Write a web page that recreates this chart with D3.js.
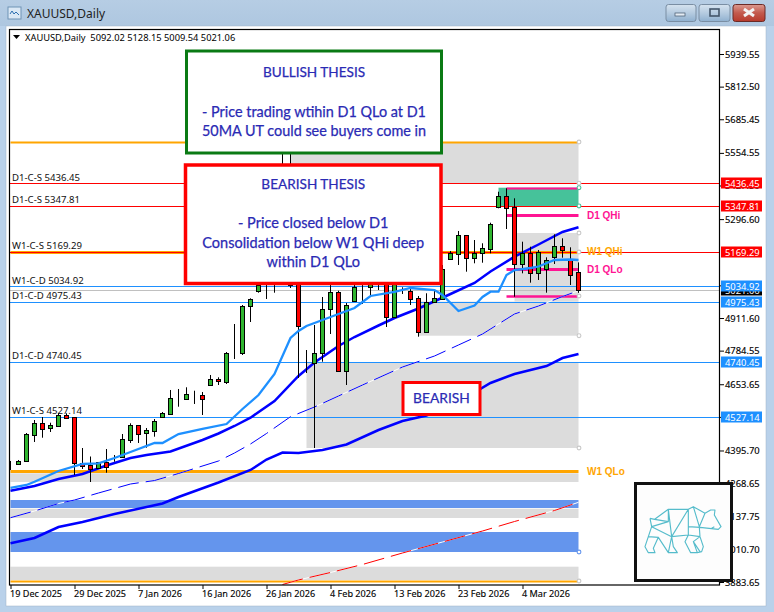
<!DOCTYPE html>
<html><head><meta charset="utf-8">
<script src="https://d3js.org/d3.v7.min.js"></script>
<style>
html,body{margin:0;padding:0;background:#b9d1ea;overflow:hidden}
svg{display:block}
text{font-family:"Noto Sans",sans-serif}
.tick text{font-family:"Noto Sans",sans-serif;font-size:9.4px;fill:#000;stroke:#000;stroke-width:.12px}
.axb .tick text{font-size:9.1px}
</style></head><body><div id="chart"></div>
<script>
const title = "XAUUSD,Daily";
const ohlcHeader = "XAUUSD,Daily  5092.02 5128.15 5009.54 5021.06";
const dateLabels = ["19 Dec 2025","29 Dec 2025","7 Jan 2026","16 Jan 2026","26 Jan 2026","4 Feb 2026","13 Feb 2026","23 Feb 2026","4 Mar 2026"];
const dateIdx = [0,8,16,24,32,40,48,56,64];
const priceTicks = [5939.55,5812.50,5685.45,5554.55,5427.50,5296.60,5038.65,4911.60,4784.55,4653.65,4526.60,4395.70,4268.65,4137.75,4010.70,3883.65];

const opens = [4337.3,4343.1,4353.6,4457.2,4501.6,4484.4,4492.2,4532.7,4525,4345.8,4338.1,4328.8,4349.8,4370.4,4371.5,4436.6,4493.8,4462.7,4472.8,4527.3,4537.8,4597.4,4595,4613,4611.8,4651.9,4672.9,4663.6,4776.5,4776.5,4956.4,5016.7,5038.2,5051.8,5098.5,5371,5098.5,4739.1,4737.6,4774.1,4945.5,5011.7,4704.1,4979,5033.5,5031.1,5044,5098.5,4916.7,5020.6,5017.9,4988.3,4858.2,4972.8,4986.8,5142.5,5162,5233.6,5144.1,5163.5,5181.4,5345,5386.6,5342.6,5123,5163.5,5085.6,5101.2,5150.3,5190.8,5140.2,5092.02];
const highs = [4354.8,4358.7,4463.8,4514.4,4526.1,4503.9,4541.7,4540.5,4526,4405.4,4372.3,4351,4401.5,4378.2,4459.9,4501.6,4495,4483.3,4518.3,4545.6,4631.3,4635.2,4641.8,4628.5,4623.5,4689.7,4680.7,4779.2,4888.2,4962.2,4988.3,5059.6,5067.3,5129.7,5565.7,5573.5,5118,4787,4884.3,4993.4,5059.6,5017.9,4970,5051.8,5059.6,5067.3,5067.3,5129.7,5129.7,5031.1,5031.1,4997.3,5007.8,5020.6,5118,5172.5,5250.4,5234.8,5215.3,5202.5,5282.7,5403.4,5416.6,5377.7,5208.7,5189.2,5176.4,5147.9,5237.5,5221.9,5186.9,5128.15];
const lows = [4319.8,4341,4353,4428.8,4445.5,4467.7,4488.3,4522.2,4300.3,4323.7,4273,4323.7,4309.2,4352.1,4367.6,4424.9,4424.9,4406.6,4449.4,4526,4533.9,4566.2,4592.3,4576.8,4533.9,4651.9,4650.7,4654.6,4752,4767.5,4896,5010.1,4985.6,5010.1,5079,5028.4,4678,4697.4,4405.4,4741.4,4849.3,4704.1,4650.7,4975.1,4966.1,4994.5,5020.6,4876.6,4912.8,5005.1,4962.2,4838.8,4854.4,4972.8,4981.7,5137.4,5118,5091.9,5124.6,5126.9,5163.5,5338.7,5258.1,4994.5,5085.6,5049.1,5059.6,5010.1,5121.9,5146.4,5040.1,5009.54];
const closes = [4337.3,4354.8,4459.9,4501.6,4480.6,4493.8,4532.7,4523.4,4345.8,4336.5,4322.5,4349.8,4332.6,4370.4,4439.3,4493.8,4459.9,4474.3,4510.6,4540.5,4598.9,4597.4,4615.7,4613,4595,4672.9,4665.1,4774.1,4776.5,4958.3,4984.4,5040.1,5038.2,5098.5,5371.1,5040,4881.6,4739.1,4774.1,4945.5,5011.7,4704.1,4961.1,5033.5,5033.5,5047.9,5044,4916.7,5098.5,5020.6,4986.8,4858.2,4972.8,4988.3,5102.4,5163.5,5233.6,5144.1,5163.5,5183,5276.4,5386.6,5341.1,5121.9,5163.5,5085.6,5168.6,5136.3,5190.8,5175.2,5077.9,5021.06];

const ma20Idx = [0,2,3,6,9,11,13,15,18,19,21,24,27,29,31,33,35,36,37,39,41,43,44,45,48,50,53,54,56,58,59,60,61,62,63,65,66,68,70,71];
const ma20Val = [4249.7,4261.4,4274.2,4315.9,4343.1,4345.8,4366.5,4389.8,4424.9,4424.9,4459.9,4479.4,4498.8,4557.3,4611.8,4693.6,4833.7,4861,4880.5,4903.8,4927.2,4950.5,4973.9,4997.3,5012.9,5028.4,5020.6,5001.2,4938.9,4960.3,4993.4,5014,5014,5079,5098.5,5106.3,5112.1,5137.4,5139.4,5137.4];
const ma50Idx = [0,3,6,9,12,15,17,20,24,26,28,30,33,36,38,41,43,46,48,51,55,58,60,63,66,69,71];
const ma50Val = [4239.2,4257.5,4284.7,4304.2,4337.3,4366.5,4378.2,4391.8,4436.6,4461.9,4491.1,4523.4,4588.4,4685.8,4738.3,4802.6,4837.6,4882.4,4911.6,4948.6,5005.1,5047.9,5092.7,5150.3,5197.8,5246.5,5264.8];
const ma100Idx = [0,3,6,9,13,19,21,26,30,32,34,36,39,42,46,49,52,56,60,63,67,69,71];
const ma100Val = [4034.3,4055,4097.8,4117.3,4148.4,4189.3,4214.6,4271.1,4319.8,4360.6,4387.9,4386,4397.6,4419,4475.5,4510.6,4532,4584.5,4658.5,4693.6,4724.7,4755.8,4771.4];
const ma200Idx = [0,3,6,8,11,15,18,21,26,28,30,32,35,38,41,44,49,53,56,59,63,66,69,71];
const ma200Val = [4134,4160.1,4189.3,4202.9,4230.2,4265.2,4278.8,4306.1,4354.8,4386,4421,4461.9,4527.3,4565.1,4607.9,4650.7,4720.8,4763.6,4806.5,4849.3,4927.2,4958.3,4995.3,5017.9];
const redMaIdx = [34,36,40,44,49,54,59,63,68,71];
const redMaVal = [3873.9,3891.5,3920.7,3951.8,3996.6,4039.4,4082.2,4119.2,4162.1,4194];

// zones: idx start, idx end, upper price, lower price
const greyZones = [[35,71,5596.9,5436.45],[63,71,5242.6,4975.43],[51,71,4975.43,4842.7],[37,71,4740.45,4405.4],[0,71,4306.9,4273],[0,71,4169.1,4132.9],[0,71,3943.3,3891.5]];
const blueZones = [[0,71,4202.9,4171.8],[0,71,4078.3,4000.5]];
const tealZone = [61,71,5419,5347.81];
const orangeLevels = [5596.9,5168.6,4314.8,3887.6];
const orangeWidths = [2,3,3,2];
const pinkLevels = [5419,5312.6,5101.2,4997.3];
const pinkWidths = [2,3,3,2.5];
const levelNames = ["D1-C-S 5436.45","D1-C-S 5347.81","W1-C-S 5169.29","W1-C-D 5034.92","D1-C-D 4975.43","D1-C-D 4740.45","W1-C-S 4527.14"];
const levelValues = [5436.45,5347.81,5169.29,5034.92,4975.43,4740.45,4527.14];
const levelColors = ["#ff0000","#ff0000","#ff0000","#1e90ff","#1e90ff","#1e90ff","#1e90ff"];
const lastPrice = 5021.06;
const zoneLabels = [["D1 QHi",5312.6,"#ff1493"],["W1 QHi",5168.6,"#ffa500"],["D1 QLo",5101.2,"#ff1493"],["W1 QLo",4314.8,"#ffa500"]];
const anchorMarks = [[5596.9,"#c8c8c8"],[5436.45,"#c8c8c8"],[5419,"#46c29a"],[5347.81,"#46c29a"],[5242.6,"#c8c8c8"],[5168.6,"#c8c8c8"],[4997.3,"#c8c8c8"],[4842.7,"#c8c8c8"],[4405.4,"#c8c8c8"],[4000.5,"#6495ed"],[3887.6,"#c8c8c8"]];
const bullText = ["BULLISH THESIS","","- Price trading wtihin D1 QLo at D1","50MA UT could see buyers come in"];
const bearText = ["BEARISH THESIS","","- Price closed below D1","Consolidation below W1 QHi deep","within D1 QLo"];

const W=774,H=612;
const svg=d3.select("#chart").append("svg").attr("width",W).attr("height",H).attr("viewBox",`0 0 ${W} ${H}`);
const x=d3.scaleLinear().domain([0,71]).range([10.5,578.5]);
const y=d3.scaleLinear().domain([3883.65,5939.55]).range([582,54]);
const yc=v=>Math.round(y(v))+0.5;

// window chrome
const defs=svg.append("defs");
const g1=defs.append("linearGradient").attr("id","tb").attr("x1",0).attr("x2",0).attr("y1",0).attr("y2",1);
g1.append("stop").attr("offset",0).attr("stop-color","#b6cde4");g1.append("stop").attr("offset",1).attr("stop-color","#aec7e0");
const g2=defs.append("linearGradient").attr("id","bt").attr("x1",0).attr("x2",0).attr("y1",0).attr("y2",1);
g2.append("stop").attr("offset",0).attr("stop-color","#d6e3ef");g2.append("stop").attr("offset",.5).attr("stop-color","#b5cbe0");g2.append("stop").attr("offset",1).attr("stop-color","#8fb0cf");
const g3=defs.append("linearGradient").attr("id","bc").attr("x1",0).attr("x2",0).attr("y1",0).attr("y2",1);
g3.append("stop").attr("offset",0).attr("stop-color","#dc9a90");g3.append("stop").attr("offset",.5).attr("stop-color","#c35a4d");g3.append("stop").attr("offset",1).attr("stop-color","#b73a2c");
svg.append("rect").attr("width",W).attr("height",H).attr("fill","#b9d1ea");
svg.append("rect").attr("width",W).attr("height",26).attr("fill","url(#tb)");
svg.append("rect").attr("x",6).attr("y",26).attr("width",760).attr("height",580).attr("fill","#fff").attr("stroke","#9fb2c6").attr("stroke-width",.5);
svg.append("rect").attr("x",8).attr("y",7).attr("width",13).attr("height",12).attr("fill","#dbe8f5").attr("stroke","#6f93b5");
svg.append("path").attr("d","M10 14l2-3 2 3 2-2 3 3").attr("fill","none").attr("stroke","#2d6fb0").attr("stroke-width",1);
svg.append("text").attr("x",27).attr("y",18).attr("font-size",12).attr("fill","#222").text(title);
const btns=[[666,30,"url(#bt)","min"],[699,31,"url(#bt)","max"],[733,32,"url(#bc)","close"]];
btns.forEach(b=>{
  svg.append("rect").attr("x",b[0]).attr("y",4.5).attr("width",b[1]).attr("height",17).attr("rx",2.5).attr("fill",b[2]).attr("stroke",b[3]=="close"?"#6b2a26":"#7a8ea3");
});
svg.append("rect").attr("x",675).attr("y",13).attr("width",10).attr("height",3).attr("fill","#e4ecf4").attr("stroke","#44566a").attr("stroke-width",.7);
svg.append("rect").attr("x",710).attr("y",9).attr("width",9).attr("height",7).attr("fill","none").attr("stroke","#44566a").attr("stroke-width",1.6);
svg.append("path").attr("d","M744 9l10 7M754 9l-10 7").attr("stroke","#f2f2f2").attr("stroke-width",3);

// clip
defs.append("clipPath").attr("id","plot").append("rect").attr("x",10).attr("y",30).attr("width",710).attr("height",555);
const plot=svg.append("g").attr("clip-path","url(#plot)");

const zoneRect=(z,col)=>plot.append("rect").attr("x",x(z[0])).attr("width",x(z[1])-x(z[0])).attr("y",y(z[2])).attr("height",y(z[3])-y(z[2])).attr("fill",col);
blueZones.forEach(z=>zoneRect(z,"#6495ed"));
greyZones.forEach(z=>zoneRect(z,"#dcdcdc"));
zoneRect(tealZone,"#46c29a");

// silver last price line and orange levels
plot.append("line").attr("x1",10).attr("x2",720).attr("y1",yc(lastPrice)).attr("y2",yc(lastPrice)).attr("stroke","#c0c0c0").attr("stroke-width",1);
orangeLevels.forEach((v,i)=>plot.append("line").attr("x1",10.5).attr("x2",x(71)).attr("y1",yc(v)).attr("y2",yc(v)).attr("stroke","#ffa500").attr("stroke-width",orangeWidths[i]));
// key levels
levelValues.forEach((v,i)=>plot.append("line").attr("x1",10).attr("x2",720).attr("y1",yc(v)).attr("y2",yc(v)).attr("stroke",levelColors[i]).attr("stroke-width",1));
pinkLevels.forEach((v,i)=>plot.append("line").attr("x1",x(62)).attr("x2",x(71)).attr("y1",yc(v)).attr("y2",yc(v)).attr("stroke","#ff1493").attr("stroke-width",pinkWidths[i]));

// moving averages
const lineOf=(idx,val)=>d3.line()(idx.map((d,i)=>[x(d),y(val[i])]));
const dashed=(idx,val,col)=>{
  plot.append("path").attr("d",lineOf(idx,val)).attr("fill","none").attr("stroke","#fff").attr("stroke-width",1);
  plot.append("path").attr("d",lineOf(idx,val)).attr("fill","none").attr("stroke",col).attr("stroke-width",1).attr("stroke-dasharray","21 7");
};
dashed(ma200Idx,ma200Val,"#0000ff");
dashed(redMaIdx,redMaVal,"#ff0000");
plot.append("path").attr("d",lineOf(ma100Idx,ma100Val)).attr("fill","none").attr("stroke","#0000ff").attr("stroke-width",2.5);
plot.append("path").attr("d",lineOf(ma50Idx,ma50Val)).attr("fill","none").attr("stroke","#0000ff").attr("stroke-width",2.5);

// candles
const idx=d3.range(opens.length);
const cg=plot.append("g");
cg.selectAll("line").data(idx).join("line").attr("x1",i=>x(i)).attr("x2",i=>x(i))
  .attr("y1",i=>y(highs[i])).attr("y2",i=>y(lows[i])).attr("stroke","#000").attr("stroke-width",1);
cg.selectAll("rect").data(idx).join("rect").attr("x",i=>x(i)-2).attr("width",4)
  .attr("y",i=>yc(Math.max(opens[i],closes[i])))
  .attr("height",i=>Math.max(0,yc(Math.min(opens[i],closes[i]))-yc(Math.max(opens[i],closes[i]))))
  .attr("fill",i=>closes[i]>opens[i]?"#2fb52f":closes[i]<opens[i]?"#ff0000":"#000")
  .attr("stroke","#000").attr("stroke-width",1);

// 20 MA above candles partly
plot.append("path").attr("d",lineOf(ma20Idx,ma20Val)).attr("fill","none").attr("stroke","#1e90ff").attr("stroke-width",2.3);

// anchors
anchorMarks.forEach(a=>plot.append("circle").attr("cx",x(71)+.5).attr("cy",y(a[0])).attr("r",1.9).attr("fill","#fff").attr("stroke",a[1]).attr("stroke-width",1.1));

// left labels
levelNames.forEach((n,i)=>plot.append("text").attr("x",12).attr("y",y(levelValues[i])-2.6).attr("font-size",9.6).attr("fill","#111").text(n));
svg.append("path").attr("d","M13 35h7l-3.5 4z").attr("fill","#000");
svg.append("text").attr("x",25).attr("y",40.5).attr("font-size",9.3).attr("fill","#000").attr("xml:space","preserve").text(ohlcHeader);

zoneLabels.forEach(l=>plot.append("text").attr("x",587).attr("y",y(l[1])+3.5).attr("font-size",10).attr("font-weight",700)
  .style("font-family","'Liberation Sans',sans-serif").attr("fill",l[2]).text(l[0]));

// axes
const axR=svg.append("g").attr("transform","translate(720,0)").call(d3.axisRight(y).tickValues(priceTicks).tickFormat(d=>d.toFixed(2)).tickSize(4).tickPadding(1));
axR.select(".domain").remove();
const axB=svg.append("g").attr("class","axb").attr("transform","translate(0,585)").call(d3.axisBottom(x).tickValues(dateIdx).tickFormat((d,i)=>dateLabels[i]).tickSize(4).tickPadding(2));
axB.select(".domain").remove();
axB.selectAll("text").attr("text-anchor","start").attr("dx",-1);
axR.selectAll("line").attr("stroke","#000");axB.selectAll("line").attr("stroke","#000");
svg.append("rect").attr("x",9.5).attr("y",29.5).attr("width",710).attr("height",555.5).attr("fill","none").attr("stroke","#000").attr("stroke-width",1.2);

// price tags
const tag=(v,col)=>{
  const t=y(v);
  svg.append("rect").attr("x",721).attr("y",Math.round(t)-5.5).attr("width",41).attr("height",11).attr("fill",col);
  svg.append("text").attr("x",725).attr("y",Math.round(t)+3.5).attr("font-size",9.4).attr("fill","#fff").text(v.toFixed(2));
};
tag(lastPrice,"#000");
levelValues.forEach((v,i)=>tag(v,levelColors[i]));

// note boxes
const box=(bx,by,bw,bh,col,lw,lines,ys,sizes)=>{
  svg.append("rect").attr("x",bx).attr("y",by).attr("width",bw).attr("height",bh).attr("fill","#fff").attr("stroke",col).attr("stroke-width",lw);
  lines.forEach((s,i)=>{ if(s) svg.append("text").attr("x",bx+bw/2).attr("y",ys[i]).attr("text-anchor","middle").style("font-family","Lato,sans-serif").attr("font-size",sizes[i]).attr("fill","#2a2ab4").attr("stroke","#2a2ab4").attr("stroke-width",.25).text(s); });
};
box(186.5,51,255,102,"#0a7a14",3,bullText,[77,0,117,136],[13.6,0,14.4,14.4]);
box(185.5,165,255.5,118.5,"#ff0000",3.5,bearText,[189,0,228,248,267],[13.6,0,14.5,14.5,14.5]);
box(403,382.5,77,32,"#ff0000",3,["BEARISH"],[403],[13.8]);

// logo
const logo=svg.append("g");
logo.append("rect").attr("x",635.5).attr("y",483.5).attr("width",96).attr("height",97).attr("fill","#fdfdfd").attr("stroke","#111").attr("stroke-width",3);
const bear=logo.append("g").attr("transform","translate(620,420) scale(.3333)");
bear.append("path").attr("fill","none").attr("stroke","#55bccb").attr("stroke-width",3.4).attr("stroke-linejoin","round")
 .attr("d","M90 295L104 298L145 268L205 268L220 260L255 280L272 270L285 270L283 285L303 320L295 328L240 322L205 320M145 268L155 350M205 268L155 350M205 268L205 345M220 260L238 320M255 280L238 320M104 298L145 305L145 268M145 305L95 320M90 295L95 320L155 350M95 320L85 350L75 380L85 398L105 398L100 385L115 352L85 350M115 352L145 398L172 398L160 380L155 350L145 398M205 345L155 350M205 345L195 365L212 398L232 398L220 365L240 350L205 345M238 322L240 350L250 380L245 395L232 398M220 365L240 395M283 320L275 325");
</script></body></html>
